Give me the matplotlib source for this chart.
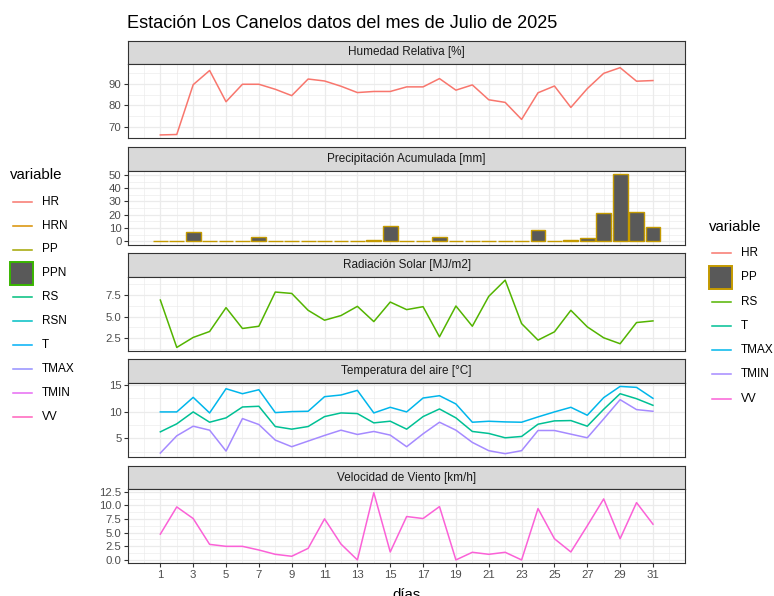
import matplotlib
matplotlib.use("Agg")
import matplotlib.pyplot as plt  # type: ignore
import numpy as np  # type: ignore
from matplotlib.patches import Rectangle  # type: ignore
from matplotlib.lines import Line2D  # type: ignore

plt.rcParams["font.family"] = ["Liberation Sans", "DejaVu Sans"]

W, H = 774, 596

days = np.arange(1, 32)

hr = [66.5, 66.7, 89.5, 96.0, 81.7, 89.7, 89.7, 87.4, 84.5, 92.1, 91.2, 88.8, 85.9, 86.4, 86.4, 88.5,
      88.5, 92.3, 87.0, 89.4, 82.6, 81.4, 73.6, 85.8, 88.9, 79.1, 87.7, 94.7, 97.3, 91.1, 91.4]
pp = [0.0, 0.2, 6.8, 0.0, 0.0, 0.5, 3.3, 0.0, 0.0, 0.0, 0.3, 0.0, 0.0, 1.0, 11.6, 0.0,
      0.0, 2.8, 0.4, 0.0, 0.0, 0.0, 0.0, 8.3, 0.4, 0.6, 2.5, 21.5, 50.8, 21.7, 10.6]
rs = [6.92, 1.42, 2.58, 3.27, 6.04, 3.62, 3.88, 7.85, 7.69, 5.73, 4.58, 5.12, 6.19, 4.42, 6.69, 5.81,
      6.15, 2.65, 6.23, 3.88, 7.35, 9.23, 4.19, 2.27, 3.23, 5.73, 3.81, 2.54, 1.85, 4.31, 4.50]
tmax = [9.94, 9.94, 12.65, 9.75, 14.26, 13.33, 14.07, 9.81, 10.0, 10.06, 12.78, 13.09, 13.95, 9.75, 10.8, 9.94,
        12.53, 12.96, 11.42, 8.02, 8.2, 8.08, 8.02, 9.01, 9.94, 10.8, 9.32, 12.6, 14.69, 14.51, 12.47]
t = [6.23, 7.72, 9.94, 8.02, 8.83, 10.86, 10.99, 7.22, 6.73, 7.22, 9.07, 9.75, 9.63, 7.9, 8.21, 6.73,
     9.07, 10.49, 8.83, 6.3, 5.93, 5.12, 5.37, 7.65, 8.27, 8.33, 7.28, 10.43, 13.33, 12.4, 11.17]
tmin = [2.28, 5.49, 7.28, 6.54, 2.65, 8.7, 7.59, 4.69, 3.46, 4.51, 5.56, 6.54, 5.74, 6.3, 5.62, 3.46,
        5.86, 8.02, 6.54, 4.26, 2.72, 2.16, 2.72, 6.48, 6.48, 5.8, 5.12, 8.64, 12.22, 10.37, 10.06]
vv = [4.73, 9.71, 7.58, 2.85, 2.49, 2.49, 1.82, 1.03, 0.67, 2.12, 7.52, 2.91, 0.0, 12.32, 1.46, 7.95,
      7.58, 9.77, 0.0, 1.40, 1.03, 1.40, 0.0, 9.41, 3.88, 1.46, 6.25, 11.17, 3.88, 10.5, 6.55]

titles = ["Humedad Relativa [%]", "Precipitación Acumulada [mm]", "Radiación Solar [MJ/m2]",
          "Temperatura del aire [°C]", "Velocidad de Viento [km/h]"]
y_ticks = [[70, 80, 90], [0, 10, 20, 30, 40, 50], [2.5, 5.0, 7.5], [5, 10, 15],
           [0.0, 2.5, 5.0, 7.5, 10.0, 12.5]]
y_minor = [[65, 75, 85, 95], [5, 15, 25, 35, 45], [1.25, 3.75, 6.25, 8.75], [2.5, 7.5, 12.5],
           [1.25, 3.75, 6.25, 8.75, 11.25]]
y_fmt = ["{:.0f}", "{:.0f}", "{:.1f}", "{:.0f}", "{:.1f}"]

col = {"HR": "#F8766D", "PP": "#C49A00", "RS": "#53B400", "T": "#00C094",
       "TMAX": "#00B6EB", "TMIN": "#A58AFF", "VV": "#FB61D7"}

left_labels = ["HR", "HRN", "PP", "PPN", "RS", "RSN", "T", "TMAX", "TMIN", "VV"]
left_colors = ["#F8766D", "#D89000", "#A3A500", "#39B600", "#00BF7D", "#00BFC4",
               "#00B0F6", "#9590FF", "#E76BF3", "#FF62BC"]
right_labels = ["HR", "PP", "RS", "T", "TMAX", "TMIN", "VV"]

BORDER = "#333333"
GRID = "#EBEBEB"


def rect(left, top, width, height):
    return [left / W, 1 - (top + height) / H, width / W, height / H]


def draw_legend(ax, x0, y_title, y0, step, labels, colors, box_label):
    ax.text(x0, y_title, "variable", fontsize=10.8, va="center", ha="left", color="black")
    for i, (lab, c) in enumerate(zip(labels, colors)):
        y = y0 + i * step
        if lab == box_label:
            ax.add_patch(Rectangle((x0, y - 11.3), 22.6, 22.6, facecolor="#595959",
                                   edgecolor=c, lw=1.4))
        else:
            ax.add_line(Line2D([x0 + 2.5, x0 + 21.5], [y, y], color=c, lw=1.1))
        ax.text(x0 + 32, y, lab, fontsize=8.5, va="center", ha="left", color="black")


def main():
    fig = plt.figure(figsize=(W / 100, H / 100), dpi=100)

    left, width = 128, 557.3
    strip_h, area_h, pitch, top0 = 23.6, 74, 106.25, 40.7
    series = [[("HR", hr)], [("PP", pp)], [("RS", rs)],
              [("TMAX", tmax), ("T", t), ("TMIN", tmin)], [("VV", vv)]]

    for i in range(5):
        top = top0 + i * pitch
        sax = fig.add_axes(rect(left, top, width, strip_h))
        sax.set_facecolor("#D9D9D9")
        sax.set_xticks([])
        sax.set_yticks([])
        for s in sax.spines.values():
            s.set_color(BORDER)
            s.set_linewidth(0.8)
        sax.text(0.5, 0.5, titles[i], transform=sax.transAxes, ha="center", va="center",
                 fontsize=8.5, color="#1A1A1A")

        ax = fig.add_axes(rect(left, top + strip_h, width, area_h))
        ax.set_facecolor("white")
        if i == 1:
            ax.bar(days, pp, width=0.9, color="#595959", edgecolor=col["PP"], lw=1.0, zorder=3)
            ax.set_ylim(-0.05 * max(pp), 1.05 * max(pp))
        else:
            for name, vals in series[i]:
                ax.plot(days, vals, color=col[name], lw=1.1, zorder=3)
            ax.margins(y=0.05)
        ax.set_xlim(-0.97, 32.97)
        ax.set_xticks(np.arange(1, 32, 2))
        ax.set_xticks(np.arange(0, 33, 2), minor=True)
        ax.set_yticks(y_ticks[i])
        ax.set_yticks(y_minor[i], minor=True)
        ax.set_yticklabels([y_fmt[i].format(v) for v in y_ticks[i]])
        ax.grid(True, which="major", color=GRID, lw=0.9, zorder=0)
        ax.grid(True, which="minor", color=GRID, lw=0.45, zorder=0)
        ax.set_axisbelow(True)
        ax.tick_params(which="minor", length=0)
        ax.tick_params(which="major", length=2.7, width=0.8, color=BORDER,
                       labelsize=8.2, labelcolor="#4D4D4D", pad=2)
        if i < 4:
            ax.tick_params(axis="x", which="both", bottom=False, labelbottom=False)
        for s in ax.spines.values():
            s.set_color(BORDER)
            s.set_linewidth(0.8)

    over = fig.add_axes([0, 0, 1, 1], facecolor="none")
    over.set_xlim(0, W)
    over.set_ylim(H, 0)
    over.axis("off")

    over.text(127, 28.5, "Estación Los Canelos datos del mes de Julio de 2025",
              fontsize=13.1, ha="left", va="baseline", color="black")
    over.text(left + width / 2, 599, "días", fontsize=10.8, ha="center", va="baseline",
              color="black")

    draw_legend(over, 10, 175, 201.7, 23.9, left_labels, left_colors, "PPN")
    right_colors = [col[k] for k in right_labels]
    draw_legend(over, 709, 227, 253.3, 24.2, right_labels, right_colors, "PP")

    fig.savefig("out.png", dpi=100)


if __name__ == "__main__":
    main()
